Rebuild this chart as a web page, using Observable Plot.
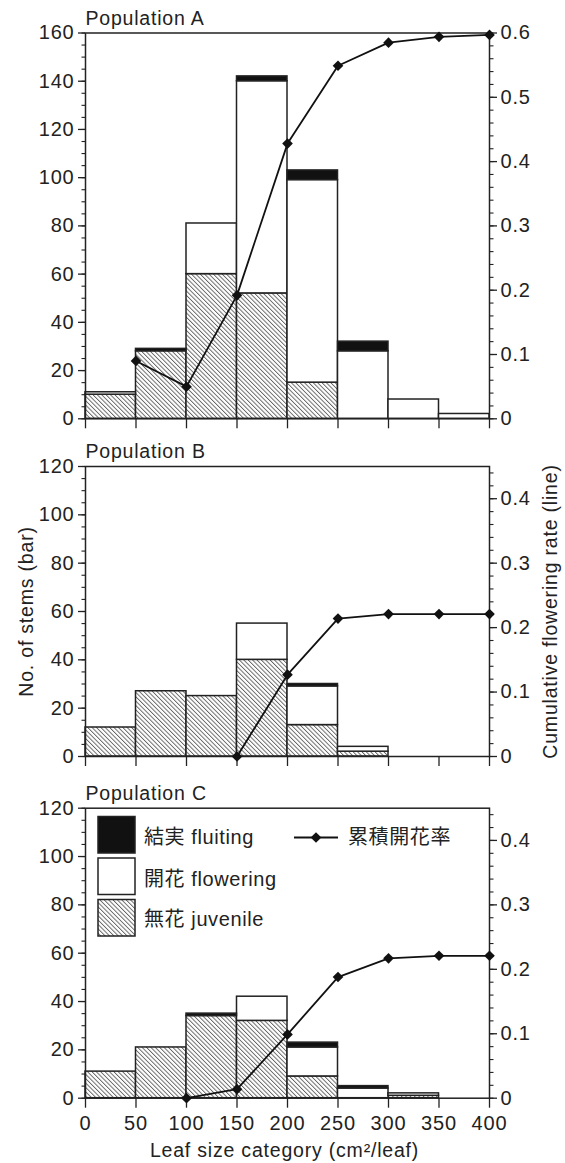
<!DOCTYPE html>
<html>
<head>
<meta charset="utf-8">
<script src="https://cdn.jsdelivr.net/npm/d3@7"></script>
<script src="https://cdn.jsdelivr.net/npm/@observablehq/plot@0.6"></script>
<style>
  html, body { margin: 0; padding: 0; background: #fff; }
  #wrap { position: relative; width: 565px; height: 1163px; overflow: hidden; }
  #wrap svg { display: block; }
</style>
</head>
<body>
<div id="wrap"></div>
<script>
// ---------- data ----------
const binStarts = [0, 50, 100, 150, 200, 250, 300, 350];
const binWidth = 50;
const xTicks = [0, 50, 100, 150, 200, 250, 300, 350, 400];

// Population A
const juvA = [10, 28, 60, 52, 15, 0, 0, 0];
const flwA = [1, 0, 21, 88, 84, 28, 8, 2];
const frtA = [0, 1, 0, 2, 4, 4, 0, 0];
const rateXA = [50, 100, 150, 200, 250, 300, 350, 400];
const rateA = [0.09, 0.05, 0.192, 0.428, 0.549, 0.585, 0.594, 0.597];

// Population B
const juvB = [12, 27, 25, 40, 13, 2, 0, 0];
const flwB = [0, 0, 0, 15, 16, 2, 0, 0];
const frtB = [0, 0, 0, 0, 1, 0, 0, 0];
const rateXB = [150, 200, 250, 300, 350, 400];
const rateB = [0, 0.127, 0.214, 0.221, 0.221, 0.221];

// Population C
const juvC = [11, 21, 34, 32, 9, 0, 1, 0];
const flwC = [0, 0, 0, 10, 12, 4, 1, 0];
const frtC = [0, 0, 1, 0, 2, 1, 0, 0];
const rateXC = [100, 150, 200, 250, 300, 350, 400];
const rateC = [0, 0.014, 0.099, 0.188, 0.217, 0.221, 0.221];

const stemTicksA = [0, 20, 40, 60, 80, 100, 120, 140, 160];
const stemTicksBC = [0, 20, 40, 60, 80, 100, 120];
const rateTicksA = [0, 0.1, 0.2, 0.3, 0.4, 0.5, 0.6];
const rateTicksBC = [0, 0.1, 0.2, 0.3, 0.4];

const titles = ["Population A", "Population B", "Population C"];
const yTitleLeft = "No. of stems (bar)";
const yTitleRight = "Cumulative flowering rate (line)";
const xTitle = "Leaf size category (cm²/leaf)";
const legendLabels = ["結実 fluiting", "開花 flowering", "無花 juvenile"];
const lineLegendLabel = "累積開花率";

// right axis: rate 0.6 corresponds to 160 stems
const k = 0.6 / 160;

const FONT = '"Liberation Sans", Arial, "Noto Sans CJK JP", sans-serif';
const INK = "#222";
const DOT_R = 4.8;
const TICK_FS = 20;

function addHatch(svg, id) {
  const defs = d3.select(svg).insert("defs", ":first-child");
  const s = 3.1;
  const p = defs.append("pattern")
    .attr("id", id)
    .attr("patternUnits", "userSpaceOnUse")
    .attr("width", s).attr("height", s)
    .attr("patternTransform", "rotate(-45)");
  p.append("rect").attr("width", s).attr("height", s).attr("fill", "#fff");
  p.append("line").attr("x1", 0.5).attr("y1", 0).attr("x2", 0.5).attr("y2", s)
    .attr("stroke", "#4a4a4a").attr("stroke-width", 0.8);
}

function makePanel(o) {
  const rows = {juvenile: [], flowering: [], fruiting: []};
  binStarts.forEach((b, i) => {
    let acc = 0;
    [["juvenile", o.juv[i]], ["flowering", o.flw[i]], ["fruiting", o.frt[i]]].forEach(([c, v]) => {
      if (v > 0) rows[c].push({x1: b, x2: b + binWidth, y1: acc, y2: acc + v});
      acc += v;
    });
  });
  const line = o.rx.map((x, i) => ({x, r: o.rate[i]}));
  const minorLeft = d3.range(0, o.yMax + 0.001, 5);
  const nMinorR = Math.floor(o.yMax * k / 0.02 + 1e-6);
  const minorRight = d3.range(0, nMinorR + 1).map(i => (i * 0.02) / k);
  const hatchId = "hatch" + o.id;

  const marks = [
    Plot.rect(rows.juvenile, {x1: "x1", x2: "x2", y1: "y1", y2: "y2", fill: `url(#${hatchId})`, stroke: INK, strokeWidth: 1.5}),
    Plot.rect(rows.flowering, {x1: "x1", x2: "x2", y1: "y1", y2: "y2", fill: "#fff", stroke: INK, strokeWidth: 1.5}),
    Plot.rect(rows.fruiting, {x1: "x1", x2: "x2", y1: "y1", y2: "y2", fill: "#111", stroke: INK, strokeWidth: 1.5}),
    Plot.axisY(minorLeft, {anchor: "left", tickSize: 3.5, tickFormat: () => "", label: null, strokeWidth: 1.1, stroke: INK}),
    Plot.axisY(o.stemTicks, {anchor: "left", tickSize: 7, tickPadding: 4, label: null, fontSize: TICK_FS, strokeWidth: 1.3, stroke: INK, fill: INK}),
    Plot.axisY(minorRight, {anchor: "right", tickSize: 3.5, tickFormat: () => "", label: null, strokeWidth: 1.1, stroke: INK}),
    Plot.axisY(o.rateTicks.map(r => r / k), {anchor: "right", tickSize: 7, tickPadding: 4, label: null, fontSize: TICK_FS,
      tickFormat: d => String(+(d * k).toFixed(1)), strokeWidth: 1.3, stroke: INK, fill: INK}),
    Plot.axisX(xTicks, {anchor: "bottom", tickSize: 10, tickPadding: 8, label: null, fontSize: TICK_FS,
      tickFormat: o.showX ? (d => String(d)) : (() => ""), strokeWidth: 1.3, stroke: INK, fill: INK}),
    Plot.frame({stroke: INK, strokeWidth: 1.5}),
    Plot.line(line, {x: "x", y: d => d.r / k, stroke: "#111", strokeWidth: 1.8}),
    Plot.dot(line, {x: "x", y: d => d.r / k, symbol: "diamond2", r: DOT_R, fill: "#111", stroke: "none"}),
    Plot.text([o.title], {frameAnchor: "top-left", textAnchor: "start", lineAnchor: "bottom", dy: -8.5, fontSize: 19.5, fill: INK})
  ];
  if (o.axisTitles) {
    marks.push(Plot.text([yTitleLeft], {frameAnchor: "left", rotate: -90, textAnchor: "middle", lineAnchor: "middle", dx: -59, fontSize: 19.5, fill: INK}));
    marks.push(Plot.text([yTitleRight], {frameAnchor: "right", rotate: -90, textAnchor: "middle", lineAnchor: "middle", dx: 61, fontSize: 19.5, fill: INK}));
  }
  if (o.showX) {
    marks.push(Plot.text([xTitle], {frameAnchor: "bottom", textAnchor: "middle", lineAnchor: "bottom", dx: -3, dy: 59, fontSize: 19.5, fill: INK}));
  }

  const svg = Plot.plot({
    width: 565,
    height: o.height,
    marginTop: o.mt,
    marginBottom: o.mb,
    marginLeft: 85,
    marginRight: 76,
    x: {domain: [0, 400]},
    y: {domain: [0, o.yMax]},
    style: {fontFamily: FONT, fontSize: "19px", letterSpacing: "0.8px", color: INK, background: "#fff", overflow: "visible"},
    marks
  });
  addHatch(svg, hatchId);
  return svg;
}

const wrap = document.getElementById("wrap");

const svgA = makePanel({id: "A", title: titles[0], juv: juvA, flw: flwA, frt: frtA, rx: rateXA, rate: rateA,
  yMax: 160, stemTicks: stemTicksA, rateTicks: rateTicksA, height: 430, mt: 32.5, mb: 11.7});
const svgB = makePanel({id: "B", title: titles[1], juv: juvB, flw: flwB, frt: frtB, rx: rateXB, rate: rateB,
  yMax: 120, stemTicks: stemTicksBC, rateTicks: rateTicksBC, height: 340, mt: 36, mb: 14, axisTitles: true});
const svgC = makePanel({id: "C", title: titles[2], juv: juvC, flw: flwC, frt: frtC, rx: rateXC, rate: rateC,
  yMax: 120, stemTicks: stemTicksBC, rateTicks: rateTicksBC, height: 393, mt: 37.7, mb: 65.3, showX: true});

wrap.appendChild(svgA);
wrap.appendChild(svgB);
wrap.appendChild(svgC);

// ---------- legend (inside panel C) ----------
const lg = d3.select(svgC).append("g")
  .attr("font-family", FONT).attr("font-size", 20).attr("fill", INK)
  .attr("text-anchor", "start")
  .style("letter-spacing", "0.6px");
const boxFills = ["#111", "#fff", "url(#hatchC)"];
const boxY = [46.5, 88, 129.5];
const textY = [74, 116, 156];
legendLabels.forEach((lab, i) => {
  lg.append("rect").attr("x", 98).attr("y", boxY[i]).attr("width", 37).attr("height", 36.5)
    .attr("fill", boxFills[i]).attr("stroke", INK).attr("stroke-width", 1.5);
  lg.append("text").attr("x", 144).attr("y", textY[i]).attr("text-anchor", "start").text(lab);
});
lg.append("line").attr("x1", 294).attr("x2", 338).attr("y1", 67.5).attr("y2", 67.5)
  .attr("stroke", "#111").attr("stroke-width", 1.8);
lg.append("path").attr("d", d3.symbol(d3.symbolDiamond2, DOT_R * DOT_R * Math.PI)())
  .attr("transform", "translate(316,67.5)").attr("fill", "#111");
lg.append("text").attr("x", 348).attr("y", 74).attr("text-anchor", "start").text(lineLegendLabel);
</script>
</body>
</html>
